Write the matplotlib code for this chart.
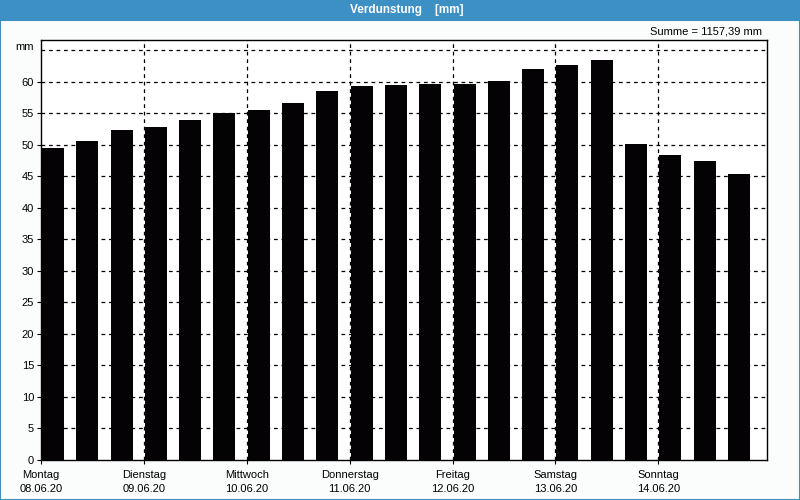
import numpy as np
import matplotlib
matplotlib.use("Agg")
from matplotlib import pyplot as plt
from matplotlib.patches import Rectangle

# three values per day, Monday 08.06.20 to Sunday 14.06.20
values = [49.4, 50.6, 52.3, 52.8, 53.9, 55.0, 55.5, 56.6, 58.5, 59.3, 59.4,
          59.6, 59.6, 60.1, 62.0, 62.6, 63.5, 50.1, 48.3, 47.4, 45.3]
days = ["Montag", "Dienstag", "Mittwoch", "Donnerstag", "Freitag", "Samstag", "Sonntag"]
dates = ["08.06.20", "09.06.20", "10.06.20", "11.06.20", "12.06.20", "13.06.20", "14.06.20"]
title = "Verdunstung    [mm]"
total_text = "Summe = 1157,39 mm"

blue = "#3d90c4"
bg = "#fbfdfd"

plt.rcParams["font.family"] = ["Liberation Sans", "DejaVu Sans"]
plt.rcParams["font.size"] = 8

fig = plt.figure(figsize=(8, 5), dpi=100)
fig.patch.set_facecolor(bg)

# title bar and frame
fig.patches.append(Rectangle((0, 0.958), 1, 0.042, transform=fig.transFigure,
                             facecolor=blue, edgecolor="none", zorder=0))
fig.patches.append(Rectangle((0.0006, 0.001), 0.9988, 0.96, transform=fig.transFigure,
                             facecolor="none", edgecolor=blue, linewidth=1.5, zorder=0))
fig.text(0.509, 0.979, title, color="white", fontweight="bold", fontsize=8.5,
         ha="center", va="center")
fig.text(0.953, 0.936, total_text, ha="right", va="center")

ax = fig.add_axes([41 / 800, 40 / 500, 726 / 800, 420 / 500])
ax.set_facecolor("white")

x = np.arange(len(values))
ax.bar(x + 0.03, values, width=0.64, align="edge", color="#040204", zorder=3)

ax.set_xlim(0, 21.17)
ax.set_ylim(0, 66.6)

ax.set_yticks(np.arange(0, 65, 5))
ax.tick_params(axis="y", length=3, width=0.8, pad=2)

ticks = np.arange(0, 21, 3)
ax.set_xticks(ticks)
ax.set_xticklabels([d + "\n" + dt for d, dt in zip(days, dates)], linespacing=1.55)
ax.tick_params(axis="x", length=3, width=0.8, pad=4)

for yv in np.arange(5, 70, 5):
    ax.axhline(yv, color="black", linestyle=(0, (3, 3)), linewidth=0.9, zorder=1)
for xv in ticks[1:]:
    ax.axvline(xv, color="black", linestyle=(0, (3, 3)), linewidth=0.9, zorder=1)

for s in ax.spines.values():
    s.set_linewidth(1.0)

fig.text(25 / 800, 1 - 47 / 500, "mm", ha="center", va="center")

fig.savefig("out.png", dpi=100, facecolor=fig.get_facecolor())
